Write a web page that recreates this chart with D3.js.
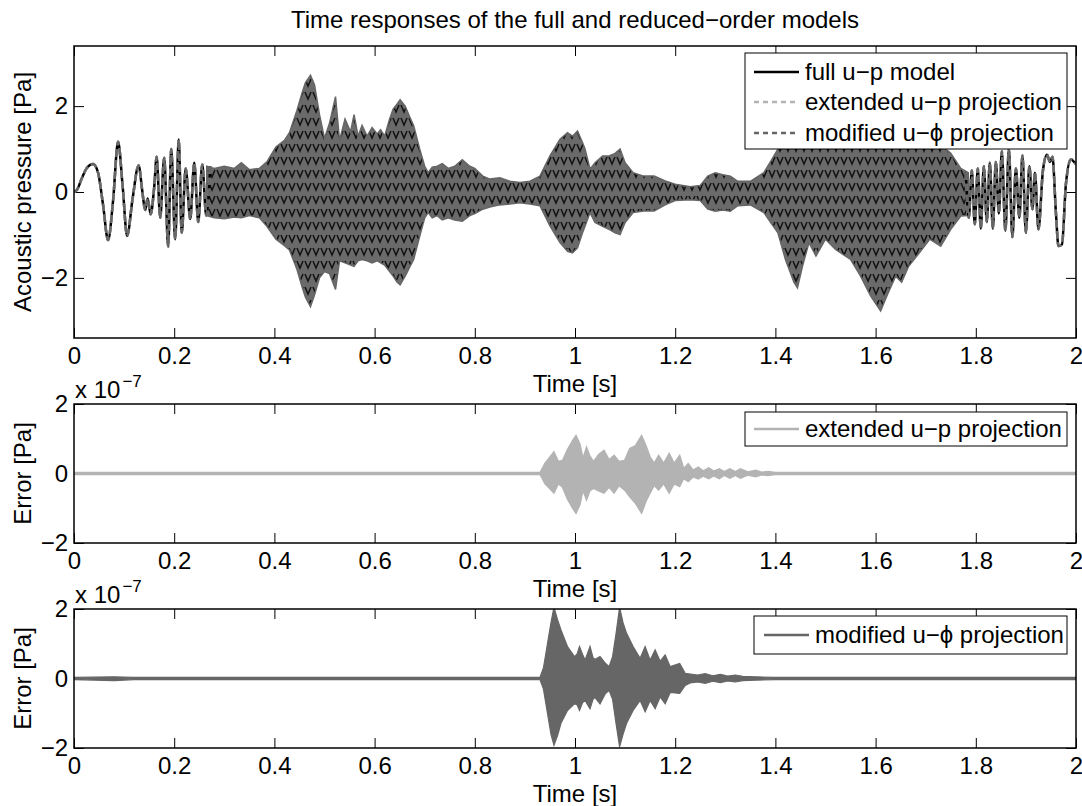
<!DOCTYPE html>
<html>
<head>
<meta charset="utf-8">
<script src="https://cdn.jsdelivr.net/npm/d3@7"></script>
<style>
  body { margin: 0; background: #fff; }
</style>
</head>
<body>
<script>
const width = 1082;
const height = 806;
const font = "Liberation Sans, Arial, Helvetica, sans-serif";
const fontSize = 24;

// x ticks shared by the three panels
var timeTicks = [0, 0.2, 0.4, 0.6, 0.8, 1, 1.2, 1.4, 1.6, 1.8, 2];
var yTicks = [-2, 0, 2];

// acoustic pressure: slow start, read peak by peak
var startT = [0, 0.006, 0.015, 0.025, 0.038, 0.048, 0.058, 0.068, 0.078, 0.088, 0.097, 0.106, 0.117, 0.129, 0.136, 0.142, 0.147, 0.153, 0.16, 0.165, 0.172, 0.18, 0.188, 0.194, 0.202, 0.209, 0.215, 0.223, 0.232, 0.24, 0.248, 0.256, 0.264, 0.272];
var startP = [0, 0.05, 0.3, 0.55, 0.65, 0.45, -0.3, -1.12, -0.2, 1.17, 0.15, -1.02, -0.15, 0.62, 0.05, -0.42, -0.15, -0.52, 0.1, 0.82, -0.6, 0.8, -1.27, 1.0, -1.1, 1.22, -0.95, 0.55, -0.63, 0.68, -0.7, 0.64, -0.55, 0.6];

// acoustic pressure: dense part, upper and lower envelope
var envT = [0.265, 0.28, 0.3, 0.32, 0.334, 0.35, 0.37, 0.385, 0.403, 0.42, 0.43, 0.445, 0.455, 0.462, 0.472, 0.48, 0.49, 0.5, 0.51, 0.522, 0.53, 0.541, 0.552, 0.559, 0.567, 0.575, 0.585, 0.595, 0.605, 0.612, 0.62, 0.63, 0.637, 0.645, 0.651, 0.661, 0.67, 0.678, 0.69, 0.7, 0.707, 0.715, 0.725, 0.735, 0.747, 0.76, 0.775, 0.79, 0.8, 0.816, 0.83, 0.85, 0.87, 0.89, 0.91, 0.93, 0.95, 0.97, 0.985, 0.995, 1.005, 1.015, 1.02, 1.03, 1.04, 1.055, 1.068, 1.08, 1.09, 1.1, 1.116, 1.137, 1.158, 1.18, 1.2, 1.23, 1.25, 1.265, 1.28, 1.295, 1.31, 1.325, 1.35, 1.377, 1.39, 1.405, 1.42, 1.437, 1.444, 1.454, 1.467, 1.481, 1.5, 1.52, 1.55, 1.57, 1.59, 1.61, 1.625, 1.64, 1.652, 1.666, 1.687, 1.708, 1.73, 1.75, 1.77, 1.785];
var envHi = [0.6, 0.55, 0.6, 0.55, 0.68, 0.52, 0.55, 0.7, 1.05, 1.2, 1.38, 1.9, 2.3, 2.55, 2.72, 2.5, 1.8, 1.25, 1.6, 2.22, 1.2, 1.7, 1.4, 1.8, 1.3, 1.55, 1.3, 1.5, 1.35, 1.45, 1.3, 1.7, 1.93, 2.05, 2.15, 2.0, 1.75, 1.54, 1.0, 0.6, 0.45, 0.58, 0.6, 0.66, 0.55, 0.6, 0.75, 0.6, 0.55, 0.37, 0.3, 0.33, 0.25, 0.22, 0.25, 0.37, 0.84, 1.23, 1.38, 1.3, 1.42, 1.15, 1.0, 0.53, 0.68, 0.84, 0.84, 0.9, 1.0, 0.68, 0.45, 0.37, 0.37, 0.26, 0.18, 0.12, 0.15, 0.37, 0.45, 0.4, 0.37, 0.25, 0.25, 0.45, 0.7, 1.0, 1.4, 1.9, 2.0, 1.6, 1.2, 1.4, 1.1, 1.3, 1.6, 1.9, 2.2, 2.5, 2.2, 1.9, 2.0, 1.7, 1.4, 1.1, 1.1, 0.9, 0.55, 0.45];
var envLo = [-0.55, -0.6, -0.62, -0.58, -0.6, -0.55, -0.6, -0.8, -1.1, -1.25, -1.35, -1.8, -2.2, -2.45, -2.67, -2.4, -2.0, -1.85, -1.9, -2.27, -1.6, -1.65, -1.7, -1.73, -1.6, -1.57, -1.6, -1.65, -1.6, -1.65, -1.7, -1.85, -1.96, -2.1, -2.16, -1.96, -1.75, -1.57, -1.03, -0.6, -0.48, -0.6, -0.55, -0.65, -0.6, -0.65, -0.68, -0.55, -0.5, -0.4, -0.35, -0.3, -0.28, -0.25, -0.28, -0.32, -0.79, -1.18, -1.38, -1.42, -1.3, -0.95, -0.8, -0.48, -0.71, -0.8, -0.87, -0.95, -0.99, -0.71, -0.48, -0.44, -0.44, -0.3, -0.2, -0.18, -0.2, -0.4, -0.45, -0.42, -0.45, -0.32, -0.3, -0.48, -0.7, -0.95, -1.57, -2.1, -2.23, -1.73, -1.18, -1.49, -1.1, -1.34, -1.57, -1.96, -2.42, -2.77, -2.35, -1.96, -2.1, -1.73, -1.42, -1.1, -1.26, -0.87, -0.56, -0.55];

// acoustic pressure: slow end, read peak by peak
var endT = [1.78, 1.786, 1.792, 1.798, 1.804, 1.81, 1.816, 1.822, 1.828, 1.834, 1.84, 1.846, 1.852, 1.859, 1.866, 1.873, 1.88, 1.887, 1.893, 1.9, 1.907, 1.913, 1.918, 1.925, 1.934, 1.942, 1.948, 1.953, 1.96, 1.965, 1.972, 1.98, 1.99, 1.996, 2.0];
var endP = [0.45, -0.6, 0.5, -0.75, 0.55, -0.85, 0.6, -0.7, 0.68, -0.85, 0.7, -0.5, 0.95, -0.9, 1.0, -1.05, 0.55, -0.6, 0.85, -0.95, 0.6, -0.4, 0.45, -0.87, 0.5, 0.87, 0.7, 0.82, -0.5, -1.26, -1.22, 0.2, 0.76, 0.7, 0.65];

// error of extended u-p projection (x 1e-7)
var errExtT = [0, 0.93, 0.94, 0.958, 0.967, 0.975, 0.985, 0.995, 1.002, 1.01, 1.016, 1.023, 1.03, 1.037, 1.047, 1.058, 1.068, 1.078, 1.088, 1.099, 1.109, 1.12, 1.133, 1.142, 1.15, 1.158, 1.167, 1.177, 1.188, 1.198, 1.209, 1.217, 1.226, 1.236, 1.246, 1.256, 1.267, 1.277, 1.288, 1.298, 1.309, 1.32, 1.33, 1.345, 1.361, 1.372, 1.385, 1.4, 2];
var errExtHi = [0.03, 0.03, 0.3, 0.63, 0.35, 0.38, 0.7, 0.95, 1.1, 0.85, 0.45, 0.77, 0.5, 0.35, 0.55, 0.67, 0.4, 0.53, 0.35, 0.38, 0.72, 0.8, 1.1, 0.8, 0.48, 0.3, 0.53, 0.3, 0.58, 0.3, 0.53, 0.15, 0.29, 0.1, 0.19, 0.08, 0.17, 0.07, 0.14, 0.06, 0.14, 0.06, 0.14, 0.05, 0.1, 0.04, 0.06, 0.03, 0.03];
var errExtLo = [-0.03, -0.03, -0.3, -0.57, -0.3, -0.4, -0.75, -1.0, -1.15, -0.9, -0.5, -0.77, -0.5, -0.43, -0.5, -0.57, -0.4, -0.57, -0.35, -0.48, -0.67, -0.85, -1.15, -0.8, -0.57, -0.35, -0.48, -0.3, -0.57, -0.3, -0.38, -0.15, -0.24, -0.1, -0.16, -0.08, -0.15, -0.07, -0.15, -0.06, -0.14, -0.06, -0.14, -0.05, -0.1, -0.04, -0.06, -0.03, -0.03];

// error of modified u-phi projection (x 1e-7)
var errModT = [0, 0.08, 0.12, 0.93, 0.937, 0.945, 0.952, 0.958, 0.965, 0.972, 0.985, 0.999, 1.004, 1.009, 1.015, 1.02, 1.03, 1.036, 1.04, 1.05, 1.06, 1.068, 1.075, 1.082, 1.089, 1.096, 1.103, 1.116, 1.13, 1.14, 1.15, 1.16, 1.17, 1.18, 1.19, 1.209, 1.22, 1.23, 1.245, 1.26, 1.275, 1.29, 1.305, 1.32, 1.335, 1.36, 1.4, 2];
var errModHi = [0.03, 0.05, 0.03, 0.03, 0.3, 1.0, 1.6, 2.05, 1.7, 1.4, 0.92, 0.63, 0.7, 0.92, 0.7, 0.53, 0.92, 0.6, 0.55, 0.63, 0.45, 0.34, 0.63, 1.3, 2.05, 1.6, 1.3, 0.92, 0.58, 0.92, 0.53, 0.82, 0.5, 0.68, 0.34, 0.43, 0.15, 0.13, 0.1, 0.14, 0.08, 0.12, 0.07, 0.1, 0.06, 0.05, 0.03, 0.03];
var errModLo = [-0.03, -0.06, -0.03, -0.03, -0.3, -1.0, -1.6, -1.92, -1.65, -1.29, -0.92, -0.73, -0.75, -0.92, -0.7, -0.63, -0.87, -0.6, -0.55, -0.73, -0.45, -0.34, -0.6, -1.3, -1.97, -1.6, -1.29, -0.92, -0.63, -0.96, -0.63, -0.87, -0.53, -0.73, -0.4, -0.43, -0.2, -0.13, -0.1, -0.14, -0.08, -0.12, -0.07, -0.1, -0.06, -0.05, -0.03, -0.03];

var lightGray = "#b3b3b3";
var darkGray = "#666666";

var svg = d3.select("body")
 .append("svg")
 .attr("width", width)
 .attr("height", height)
 .attr("font-family", font);

// texture for the dense part: dark gray with black dashes peeking through
var pat = svg.append("defs").append("pattern")
 .attr("id", "dense")
 .attr("patternUnits", "userSpaceOnUse")
 .attr("width", 8)
 .attr("height", 13);
pat.append("rect").attr("width", 8).attr("height", 13).attr("fill", "#6a6a6a");
pat.append("path").attr("d", "M1,1 L4,8 L7,1").attr("fill", "none").attr("stroke", "#111").attr("stroke-width", 1.5);

var x = d3.scaleLinear().domain([0, 2]).range([74, 1076]);

var panels = [
 {top: 46, bottom: 338, ymax: 3.4, label: "Acoustic pressure [Pa]", exp: false},
 {top: 404, bottom: 543, ymax: 2, label: "Error [Pa]", exp: true},
 {top: 609, bottom: 748, ymax: 2, label: "Error [Pa]", exp: true}
];

var fmtX = d => String(+d.toFixed(1));
var fmtY = d3.format("d");

panels.forEach(function(p, i) {
 p.y = d3.scaleLinear().domain([-p.ymax, p.ymax]).range([p.bottom, p.top]);

 svg.append("clipPath").attr("id", "clip" + i)
  .append("rect").attr("x", 74).attr("y", p.top).attr("width", 1002).attr("height", p.bottom - p.top);

 //Axes with inward ticks on every side
 svg.append("g").attr("class", "ax").attr("transform", "translate(0," + p.bottom + ")")
  .call(d3.axisBottom(x).tickValues(timeTicks).tickSizeInner(-10).tickSizeOuter(0).tickPadding(9).tickFormat(fmtX));
 svg.append("g").attr("class", "ax").attr("transform", "translate(0," + p.top + ")")
  .call(d3.axisTop(x).tickValues(timeTicks).tickSizeInner(-10).tickSizeOuter(0).tickFormat(""));
 svg.append("g").attr("class", "ax").attr("transform", "translate(74,0)")
  .call(d3.axisLeft(p.y).tickValues(yTicks).tickSizeInner(-10).tickSizeOuter(0).tickPadding(6).tickFormat(fmtY));
 svg.append("g").attr("class", "ax").attr("transform", "translate(1076,0)")
  .call(d3.axisRight(p.y).tickValues(yTicks).tickSizeInner(-10).tickSizeOuter(0).tickFormat(""));

 svg.append("text")
  .attr("x", 575).attr("y", p.bottom + 54)
  .attr("text-anchor", "middle").attr("font-size", fontSize)
  .text("Time [s]");

 svg.append("text")
  .attr("transform", "translate(31," + ((p.top + p.bottom) / 2) + ") rotate(-90)")
  .attr("text-anchor", "middle").attr("font-size", fontSize)
  .text(p.label);

 if (p.exp) {
  var e = svg.append("text").attr("x", 75).attr("y", p.top - 6).attr("font-size", fontSize);
  e.append("tspan").text("x 10");
  e.append("tspan").attr("dx", 2).attr("dy", -11).attr("font-size", 17).text("\u22127");
 }
});

svg.selectAll(".ax").attr("font-family", font).attr("font-size", fontSize);
svg.selectAll(".domain").remove();
svg.selectAll(".tick line").attr("stroke", "#000").attr("stroke-width", 1);
svg.selectAll(".tick text").attr("fill", "#000");

// ---- top panel: pressure ----
var p0 = panels[0];
var g0 = svg.append("g").attr("clip-path", "url(#clip0)");

var envArea = d3.area()
 .x(i => x(envT[i]))
 .y0(i => p0.y(envLo[i]))
 .y1(i => p0.y(envHi[i]));
g0.append("path").attr("d", envArea(d3.range(envT.length)))
 .attr("fill", "url(#dense)").attr("stroke", darkGray).attr("stroke-width", 1.5);

var wave = d3.line().x(d => x(d[0])).y(d => p0.y(d[1])).curve(d3.curveMonotoneX);
[d3.zip(startT, startP), d3.zip(endT, endP)].forEach(function(seg) {
 g0.append("path").attr("d", wave(seg)).attr("fill", "none").attr("stroke", "#000").attr("stroke-width", 2.5);
 g0.append("path").attr("d", wave(seg)).attr("fill", "none").attr("stroke", lightGray).attr("stroke-width", 2.5).attr("stroke-dasharray", "7,4");
 g0.append("path").attr("d", wave(seg)).attr("fill", "none").attr("stroke", darkGray).attr("stroke-width", 2.5).attr("stroke-dasharray", "7,4");
});

// ---- error panels ----
function errPlot(i, ts, hi, lo, color) {
 var p = panels[i];
 var a = d3.area()
  .x(k => x(ts[k]))
  .y0(k => p.y(lo[k]))
  .y1(k => p.y(hi[k]));
 svg.append("g").attr("clip-path", "url(#clip" + i + ")")
  .append("path").attr("d", a(d3.range(ts.length)))
  .attr("fill", color).attr("stroke", color).attr("stroke-width", 1.2);
}
errPlot(1, errExtT, errExtHi, errExtLo, lightGray);
errPlot(2, errModT, errModHi, errModLo, darkGray);

// axes boxes
panels.forEach(function(p) {
 svg.append("rect").attr("x", 74).attr("y", p.top).attr("width", 1002).attr("height", p.bottom - p.top)
  .attr("fill", "none").attr("stroke", "#000").attr("stroke-width", 1.5);
});

// ---- legends ----
function legend(x0, y0, w, h, rows) {
 var g = svg.append("g");
 g.append("rect").attr("x", x0).attr("y", y0).attr("width", w).attr("height", h)
  .attr("fill", "#fff").attr("stroke", "#000").attr("stroke-width", 1);
 rows.forEach(function(r) {
  g.append("line").attr("x1", r.lx).attr("x2", r.lx + 45).attr("y1", r.cy).attr("y2", r.cy)
   .attr("stroke", r.color).attr("stroke-width", 2.5).attr("stroke-dasharray", r.dash || null);
  g.append("text").attr("x", r.lx + 51).attr("y", r.cy + 8).attr("font-size", fontSize).text(r.text);
 });
}
legend(745, 53, 322, 96, [
 {lx: 754, cy: 72, color: "#000", text: "full u\u2212p model"},
 {lx: 754, cy: 102, color: lightGray, dash: "5,4", text: "extended u\u2212p projection"},
 {lx: 754, cy: 133, color: darkGray, dash: "5,4", text: "modified u\u2212\u03d5 projection"}
]);
legend(745, 412, 322, 34, [
 {lx: 754, cy: 429, color: lightGray, text: "extended u\u2212p projection"}
]);
legend(754, 616, 313, 38, [
 {lx: 764, cy: 635, color: darkGray, text: "modified u\u2212\u03d5 projection"}
]);

// title
svg.append("text")
 .attr("x", 575).attr("y", 28)
 .attr("text-anchor", "middle").attr("font-size", fontSize)
 .text("Time responses of the full and reduced\u2212order models");
</script>
</body>
</html>
